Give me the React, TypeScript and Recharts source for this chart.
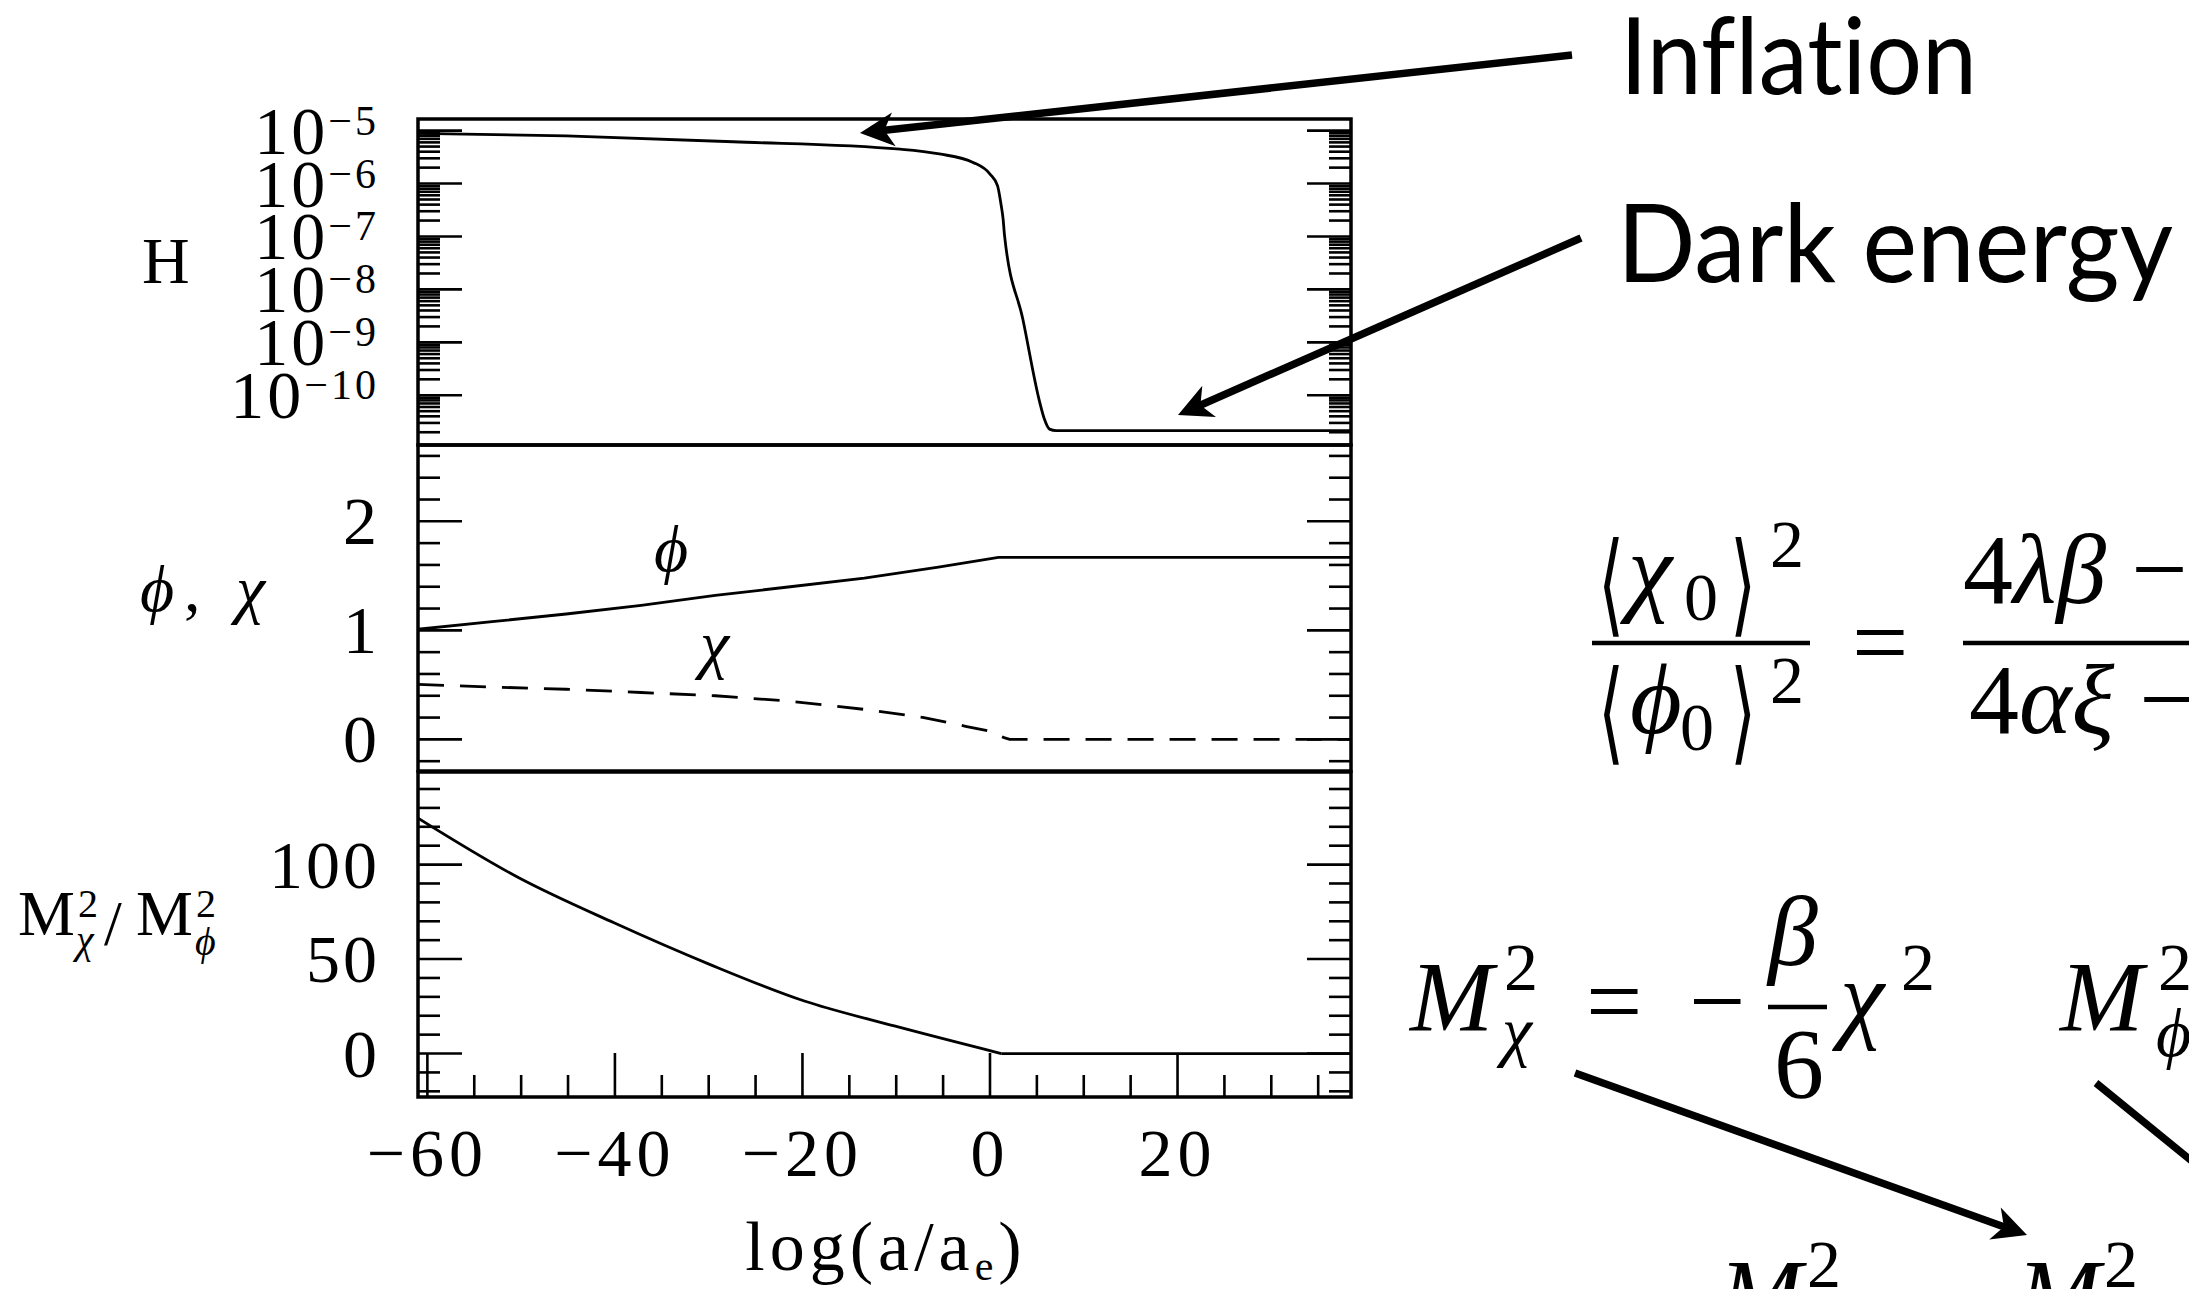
import React from "react";
import { LineChart, Line, XAxis, YAxis, ReferenceArea } from "recharts";

const W = 2189;
const H = 1289;
const PLOT_LEFT = 418;
const PLOT_RIGHT = 1351;
const AXIS_W = 60;
const SERIF = "'Liberation Serif', 'DejaVu Serif', serif";
const SANS = "Lato, 'Open Sans', sans-serif";

// ---- data ----
const xDomain: [number, number] = [-61, 38.5];

// top panel: log10 H
const hubbleX = [-61, -45.2, -27.4, -9.6, -5.4, -1.8, 0, 0.8, 1.2, 1.4, 1.55, 3.5, 5.3, 5.8, 6.35, 7.05, 20, 38.5];
const hubbleLog10 = [-5.05, -5.1, -5.21, -5.35, -5.44, -5.6, -5.82, -6.04, -6.42, -6.67, -6.98, -8.56, -10.13, -10.45, -10.64, -10.67, -10.67, -10.67];

// middle panel: phi (solid) and chi (dashed)
const phiX = [-61, -53.1, -45.2, -37.2, -29.3, -21.3, -13.4, -5.5, 0.9, 38.5];
const phiVal = [1.01, 1.08, 1.15, 1.23, 1.32, 1.4, 1.48, 1.58, 1.67, 1.67];
const chiX = [-61, -53.1, -45.2, -37.2, -29.3, -21.3, -13.4, -7.05, -2.6, -0.1, 1.5, 2.1, 38.5];
const chiVal = [0.505, 0.48, 0.46, 0.43, 0.4, 0.35, 0.275, 0.2, 0.12, 0.076, 0.016, 0, 0];

// bottom panel: M_chi^2 / M_phi^2 (falls to zero, then stays flat)
const massX = [-61, -50.2, -40.1, -29.9, -19.8, -10.2, 1.2, 38.5];
const massRatio = [124.6, 92.9, 69.2, 47.2, 27.8, 14.6, 0, 0];

// axes
const xTicks = Array.from({ length: 20 }, (_, i) => -60 + 5 * i);
const xTickLabels = [-60, -40, -20, 0, 20];
const hubbleMajors = [-10, -9, -8, -7, -6, -5];
const midMajors = [0, 1, 2];
const massMajors = [0, 50, 100];

const hubbleTicks: number[] = [];
for (let n = -11; n <= -5; n++) {
  for (let k = 1; k <= 9; k++) {
    const v = n + Math.log10(k);
    if (v > -10.94 && v < -4.78) hubbleTicks.push(v);
  }
}
const midTicks = Array.from({ length: 15 }, (_, i) => Math.round((-0.2 + 0.2 * i) * 10) / 10);
const massTicks = Array.from({ length: 17 }, (_, i) => -20 + 10 * i);

const zip = (xs: number[], ys: number[]) => xs.map((x, i) => ({ x, y: ys[i] }));

const fmt = (v: number) => (v < 0 ? "\u2212" + Math.abs(v) : String(v));
const isMajor = (arr: number[], v: number) => arr.some((m) => Math.abs(m - v) < 1e-6);

const powLabel = (v: number, x: number, y: number) => (
  <text x={x - 39} y={y + 23} textAnchor="end" fontFamily={SERIF} fontSize={68} letterSpacing={3} fill="#000">
    10
    <tspan dy={-19} fontSize={42}>
      {fmt(v)}
    </tspan>
  </text>
);

const plainLabel = (v: number, x: number, y: number) => (
  <text x={x - 38} y={y + 23} textAnchor="end" fontFamily={SERIF} fontSize={68} letterSpacing={3} fill="#000">
    {fmt(v)}
  </text>
);

const yTick = (side: "left" | "right", majors: number[], label?: (v: number, x: number, y: number) => React.ReactNode) =>
  (props: any) => {
    const { x, y, payload } = props;
    const v = payload.value;
    const major = isMajor(majors, v);
    const dir = side === "left" ? 1 : -1;
    const len = major ? 44 : 22;
    return (
      <g>
        <line x1={x} y1={y} x2={x + dir * len} y2={y} stroke="#000" strokeWidth={2.6} />
        {side === "left" && major && label ? label(v, x, y) : null}
      </g>
    );
  };

const xTick = (props: any) => {
  const { x, y, payload } = props;
  const v = payload.value;
  const major = isMajor(xTickLabels, v);
  const len = major ? 44 : 22;
  return (
    <g>
      <line x1={x} y1={y} x2={x} y2={y - len} stroke="#000" strokeWidth={2.6} />
      {major ? (
        <text x={x} y={y + 79} textAnchor="middle" fontFamily={SERIF} fontSize={68} letterSpacing={5} fill="#000">
          {fmt(v)}
        </text>
      ) : null}
    </g>
  );
};

interface Series {
  data: { x: number; y: number }[];
  dash?: string;
  type?: "linear" | "monotone";
}

interface PanelProps {
  top: number;
  bottom: number;
  yDomain: [number, number];
  yTicks: number[];
  majors: number[];
  label: (v: number, x: number, y: number) => React.ReactNode;
  series: Series[];
  showX?: boolean;
}

function Panel({ top, bottom, yDomain, yTicks, majors, label, series, showX = false }: PanelProps) {
  const xAxisH = showX ? 60 : 0;
  return (
    <div style={{ position: "absolute", left: 0, top: 0 }}>
      <LineChart
        width={W}
        height={H}
        margin={{ top, bottom: H - bottom - xAxisH, left: PLOT_LEFT - AXIS_W, right: W - PLOT_RIGHT - AXIS_W }}
      >
        <XAxis
          type="number"
          dataKey="x"
          domain={xDomain}
          allowDataOverflow
          hide={!showX}
          height={xAxisH}
          ticks={xTicks}
          interval={0}
          tick={xTick}
          tickSize={0}
          tickMargin={0}
          tickLine={false}
          axisLine={false}
        />
        <YAxis
          yAxisId="l"
          type="number"
          domain={yDomain}
          allowDataOverflow
          ticks={yTicks}
          interval={0}
          width={AXIS_W}
          tick={yTick("left", majors, label)}
          tickSize={0}
          tickMargin={0}
          tickLine={false}
          axisLine={false}
        />
        <YAxis
          yAxisId="r"
          orientation="right"
          type="number"
          domain={yDomain}
          allowDataOverflow
          ticks={yTicks}
          interval={0}
          width={AXIS_W}
          tick={yTick("right", majors)}
          tickSize={0}
          tickMargin={0}
          tickLine={false}
          axisLine={false}
        />
        <ReferenceArea
          yAxisId="l"
          x1={xDomain[0]}
          x2={xDomain[1]}
          y1={yDomain[0]}
          y2={yDomain[1]}
          fill="none"
          stroke="#000"
          strokeWidth={3.5}
        />
        {series.map((s, i) => (
          <Line
            key={i}
            yAxisId="l"
            data={s.data}
            dataKey="y"
            type={s.type ?? "linear"}
            stroke="#000"
            strokeWidth={2.8}
            strokeDasharray={s.dash}
            dot={false}
            isAnimationActive={false}
          />
        ))}
      </LineChart>
    </div>
  );
}

function Arrow({ from, to, w = 7.5, len = 34, head = 34 }: { from: [number, number]; to: [number, number]; w?: number; len?: number; head?: number }) {
  const [x1, y1] = from;
  const [x2, y2] = to;
  const d = Math.hypot(x2 - x1, y2 - y1);
  const ux = (x2 - x1) / d;
  const uy = (y2 - y1) / d;
  const nx = -uy;
  const ny = ux;
  const bx = x2 - ux * len;
  const by = y2 - uy * len;
  const kx = x2 - ux * len * 0.72;
  const ky = y2 - uy * len * 0.72;
  const pts = [
    [x2, y2],
    [bx + (nx * head) / 2, by + (ny * head) / 2],
    [kx, ky],
    [bx - (nx * head) / 2, by - (ny * head) / 2],
  ]
    .map((p) => p.join(","))
    .join(" ");
  return (
    <g>
      <line x1={x1} y1={y1} x2={kx + ux * 2} y2={ky + uy * 2} stroke="#000" strokeWidth={w} />
      <polygon points={pts} fill="#000" />
    </g>
  );
}

// slim angle bracket sitting on a baseline
function Angle({ x, y, ch }: { x: number; y: number; ch: string }) {
  return (
    <text transform={`translate(${x} ${y}) scale(0.6 1)`} fontFamily="'DejaVu Serif', serif" fontSize={112} fill="#000">
      {ch}
    </text>
  );
}

function Overlay() {
  const t = { fontFamily: SERIF, fill: "#000" };
  return (
    <svg width={W} height={H} style={{ position: "absolute", left: 0, top: 0, pointerEvents: "none" }}>
      {/* axis titles */}
      <text x={142} y={283} fontSize={66} {...t}>H</text>
      <text x={140} y={611} fontSize={66} fontStyle="italic" {...t}>ϕ</text>
      <text x={184} y={611} fontSize={66} {...t}>,</text>
      <text x={236} y={611} fontSize={66} fontStyle="italic" {...t}>χ</text>
      <g {...t}>
        <text x={18} y={935} fontSize={64}>M</text>
        <text x={78} y={917} fontSize={40}>2</text>
        <text x={76} y={953} fontSize={40} fontStyle="italic">χ</text>
        <text x={104} y={945} fontSize={64}>/</text>
        <text x={136} y={935} fontSize={64}>M</text>
        <text x={196} y={917} fontSize={40}>2</text>
        <text x={195} y={955} fontSize={40} fontStyle="italic">ϕ</text>
      </g>
      <text x={886} y={1270} fontSize={70} letterSpacing={5} textAnchor="middle" {...t}>
        log(a/a<tspan dy={10} fontSize={42}>e</tspan>
        <tspan dy={-10}>)</tspan>
      </text>

      {/* curve labels */}
      <text x={654} y={571} fontSize={66} fontStyle="italic" {...t}>ϕ</text>
      <text x={700} y={666} fontSize={66} fontStyle="italic" {...t}>χ</text>

      {/* callouts */}
      <g style={{ fontVariantLigatures: "none" }}>
        <text x={1620} y={94} fontFamily={SANS} fontSize={106} textLength={357} lengthAdjust="spacingAndGlyphs" fill="#000">
          Inflation
        </text>
        <text x={1617} y={282} fontFamily={SANS} fontSize={108} textLength={556} lengthAdjust="spacingAndGlyphs" fill="#000">
          Dark energy
        </text>
      </g>
      <Arrow from={[1572, 55]} to={[860, 133]} />
      <Arrow from={[1581, 238]} to={[1178, 415]} />

      {/* vev ratio */}
      <g {...t} fontSize={100}>
        <Angle x={1598} y={622} ch="⟨" />
        <text x={1628} y={603} fontStyle="italic">χ</text>
        <text x={1684} y={620} fontSize={68}>0</text>
        <Angle x={1730} y={622} ch="⟩" />
        <text x={1770} y={567} fontSize={68}>2</text>
        <line x1={1592} y1={643} x2={1810} y2={643} stroke="#000" strokeWidth={4.5} />
        <Angle x={1598} y={750} ch="⟨" />
        <text x={1630} y={733} fontStyle="italic">ϕ</text>
        <text x={1680} y={750} fontSize={68}>0</text>
        <Angle x={1730} y={750} ch="⟩" />
        <text x={1770} y={703} fontSize={68}>2</text>
        <text x={1852} y={676}>=</text>
        <text x={1963} y={603}>
          4<tspan fontStyle="italic">λβ</tspan> −
        </text>
        <line x1={1963} y1={643} x2={2189} y2={643} stroke="#000" strokeWidth={4.5} />
        <text x={1969} y={733}>
          4<tspan fontStyle="italic">αξ</tspan> −
        </text>
      </g>

      {/* mass formulas */}
      <g {...t} fontSize={100}>
        <text x={1410} y={1030} fontStyle="italic">M</text>
        <text x={1504} y={990} fontSize={68}>2</text>
        <text x={1502} y={1054} fontSize={68} fontStyle="italic">χ</text>
        <text x={1586} y={1035}>=</text>
        <text x={1689} y={1035}>−</text>
        <text x={1768} y={965} fontStyle="italic">β</text>
        <line x1={1768} y1={1007} x2={1827} y2={1007} stroke="#000" strokeWidth={4.5} />
        <text x={1774} y={1097}>6</text>
        <text x={1840} y={1030} fontStyle="italic">χ</text>
        <text x={1901} y={990} fontSize={68}>2</text>
        <text x={2060} y={1030} fontStyle="italic">M</text>
        <text x={2158} y={990} fontSize={68}>2</text>
        <text x={2156} y={1056} fontSize={68} fontStyle="italic">ϕ</text>
        <text x={1719} y={1328} fontStyle="italic">M</text>
        <text x={1807} y={1287} fontSize={68}>2</text>
        <text x={2017} y={1328} fontStyle="italic">M</text>
        <text x={2104} y={1287} fontSize={68}>2</text>
      </g>
      <Arrow from={[1575, 1073]} to={[2027, 1235]} />
      <Arrow from={[2096, 1083]} to={[2290, 1241]} />
    </svg>
  );
}

export default function App() {
  const massCurve = zip(massX, massRatio);
  return (
    <div style={{ position: "absolute", left: 0, top: 0, width: W, height: H, background: "#fff", overflow: "hidden" }}>
      <Panel
        top={119}
        bottom={445}
        yDomain={[-10.94, -4.78]}
        yTicks={hubbleTicks}
        majors={hubbleMajors}
        label={powLabel}
        series={[{ data: zip(hubbleX, hubbleLog10), type: "monotone" }]}
      />
      <Panel
        top={445}
        bottom={771}
        yDomain={[-0.29, 2.7]}
        yTicks={midTicks}
        majors={midMajors}
        label={plainLabel}
        series={[{ data: zip(phiX, phiVal) }, { data: zip(chiX, chiVal), dash: "26 16" }]}
      />
      <Panel
        top={772}
        bottom={1097}
        yDomain={[-23, 149]}
        yTicks={massTicks}
        majors={massMajors}
        label={plainLabel}
        series={[
          { data: massCurve.slice(0, -1), type: "monotone" },
          { data: massCurve.slice(-2) },
        ]}
        showX
      />
      <Overlay />
    </div>
  );
}
